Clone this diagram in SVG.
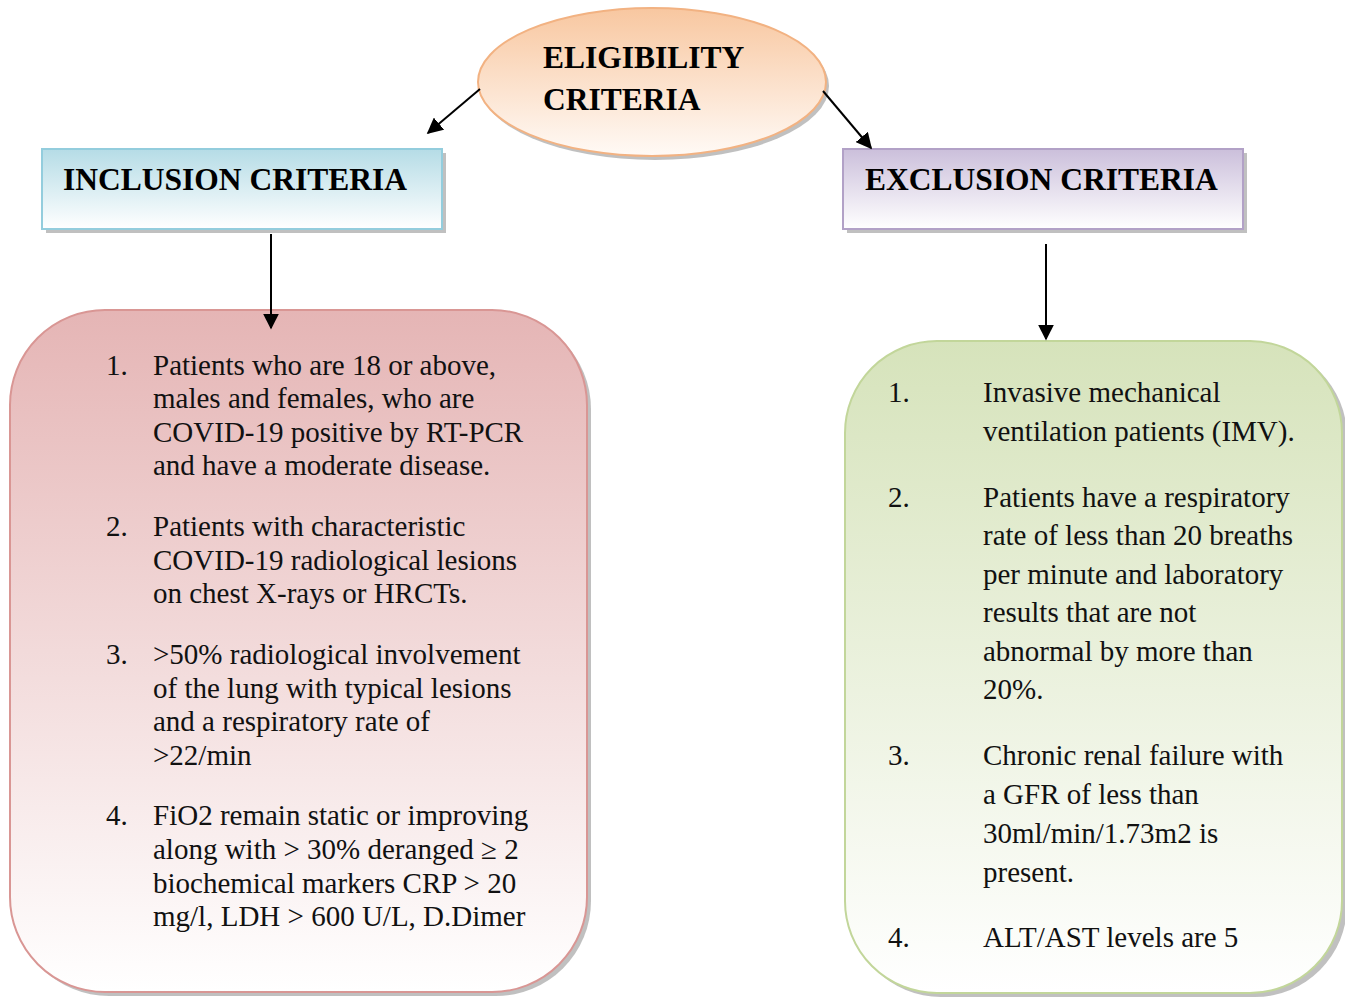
<svg xmlns="http://www.w3.org/2000/svg" width="1345" height="998" viewBox="0 0 1345 998">
<defs>
<linearGradient id="gOrange" x1="0" y1="0" x2="0" y2="1"><stop offset="0" stop-color="#f8c7a0"/><stop offset="1" stop-color="#fffaf6"/></linearGradient>
<linearGradient id="gBlue" x1="0" y1="0" x2="0" y2="1"><stop offset="0" stop-color="#b5dce6"/><stop offset="1" stop-color="#ffffff"/></linearGradient>
<linearGradient id="gPurple" x1="0" y1="0" x2="0" y2="1"><stop offset="0" stop-color="#cbbfdb"/><stop offset="1" stop-color="#ffffff"/></linearGradient>
<linearGradient id="gPink" x1="0" y1="0" x2="0" y2="1"><stop offset="0" stop-color="#e5b5b5"/><stop offset="1" stop-color="#ffffff"/></linearGradient>
<linearGradient id="gGreen" x1="0" y1="0" x2="0" y2="1"><stop offset="0" stop-color="#d6e3bb"/><stop offset="1" stop-color="#ffffff"/></linearGradient>
<marker id="arrL" viewBox="0 0 10 10" refX="9" refY="5" markerWidth="16" markerHeight="16" markerUnits="userSpaceOnUse" orient="auto"><path d="M0,0 L10,5 L0,10 z" fill="#000"/></marker>
</defs>
<style>
.title{font-family:"Liberation Serif",serif;font-weight:bold;font-size:31.5px;fill:#000}
.body{font-family:"Liberation Serif",serif;font-size:29px;fill:#111}
.shadow{fill:#8c8c8c;opacity:0.55}
.conn{stroke:#000;stroke-width:2;fill:none}
</style>
<rect width="1345" height="998" fill="#fff"/>

<g id="eligibility">
<ellipse class="shadow" cx="655" cy="86" rx="174" ry="74"/>
<ellipse cx="652" cy="82" rx="174" ry="74" fill="url(#gOrange)" stroke="#f2b282" stroke-width="2"/>
<text class="title" x="543" y="68">ELIGIBILITY</text>
<text class="title" x="543" y="110">CRITERIA</text>
</g>

<g id="inclusion-header">
<rect class="shadow" x="46" y="153" width="400" height="80"/>
<rect x="42" y="149" width="400" height="80" fill="url(#gBlue)" stroke="#93cddd" stroke-width="2"/>
<text class="title" x="63" y="190">INCLUSION CRITERIA</text>
</g>

<g id="exclusion-header">
<rect class="shadow" x="847" y="153" width="400" height="80"/>
<rect x="843" y="149" width="400" height="80" fill="url(#gPurple)" stroke="#b2a1c7" stroke-width="2"/>
<text class="title" x="865" y="190">EXCLUSION CRITERIA</text>
</g>

<g id="inclusion-list">
<rect class="shadow" x="14" y="314" width="577" height="682" rx="95" ry="95"/>
<rect x="10" y="310" width="577" height="682" rx="95" ry="95" fill="url(#gPink)" stroke="#d99694" stroke-width="2"/>
<g class="body">
<text x="106" y="375">1.</text>
<text x="153" y="375">Patients who are 18 or above,</text>
<text x="153" y="408">males and females, who are</text>
<text x="153" y="442">COVID-19 positive by RT-PCR</text>
<text x="153" y="475">and have a moderate disease.</text>
<text x="106" y="536">2.</text>
<text x="153" y="536">Patients with characteristic</text>
<text x="153" y="570">COVID-19 radiological lesions</text>
<text x="153" y="603">on chest X-rays or HRCTs.</text>
<text x="106" y="664">3.</text>
<text x="153" y="664">&gt;50% radiological involvement</text>
<text x="153" y="698">of the lung with typical lesions</text>
<text x="153" y="731">and a respiratory rate of</text>
<text x="153" y="765">&gt;22/min</text>
<text x="106" y="825">4.</text>
<text x="153" y="825">FiO2 remain static or improving</text>
<text x="153" y="859">along with &gt; 30% deranged ≥ 2</text>
<text x="153" y="893">biochemical markers CRP &gt; 20</text>
<text x="153" y="926">mg/l, LDH &gt; 600 U/L, D.Dimer</text>
</g>
</g>

<g id="exclusion-list">
<rect class="shadow" x="849" y="345" width="498" height="652" rx="92" ry="92"/>
<rect x="845" y="341" width="497" height="652" rx="92" ry="92" fill="url(#gGreen)" stroke="#c2d69a" stroke-width="2"/>
<g class="body">
<text x="888" y="402">1.</text>
<text x="983" y="402">Invasive mechanical</text>
<text x="983" y="441">ventilation patients (IMV).</text>
<text x="888" y="507">2.</text>
<text x="983" y="507">Patients have a respiratory</text>
<text x="983" y="545">rate of less than 20 breaths</text>
<text x="983" y="584">per minute and laboratory</text>
<text x="983" y="622">results that are not</text>
<text x="983" y="661">abnormal by more than</text>
<text x="983" y="699">20%.</text>
<text x="888" y="765">3.</text>
<text x="983" y="765">Chronic renal failure with</text>
<text x="983" y="804">a GFR of less than</text>
<text x="983" y="843">30ml/min/1.73m2 is</text>
<text x="983" y="882">present.</text>
<text x="888" y="947">4.</text>
<text x="983" y="947">ALT/AST levels are 5</text>
</g>
</g>

<g id="connectors">
<line class="conn" x1="480" y1="89" x2="428" y2="133" marker-end="url(#arrL)"/>
<line class="conn" x1="823" y1="91" x2="871" y2="148" marker-end="url(#arrL)"/>
<line class="conn" x1="271" y1="234" x2="271" y2="328" marker-end="url(#arrL)"/>
<line class="conn" x1="1046" y1="244" x2="1046" y2="339" marker-end="url(#arrL)"/>
</g>
</svg>
